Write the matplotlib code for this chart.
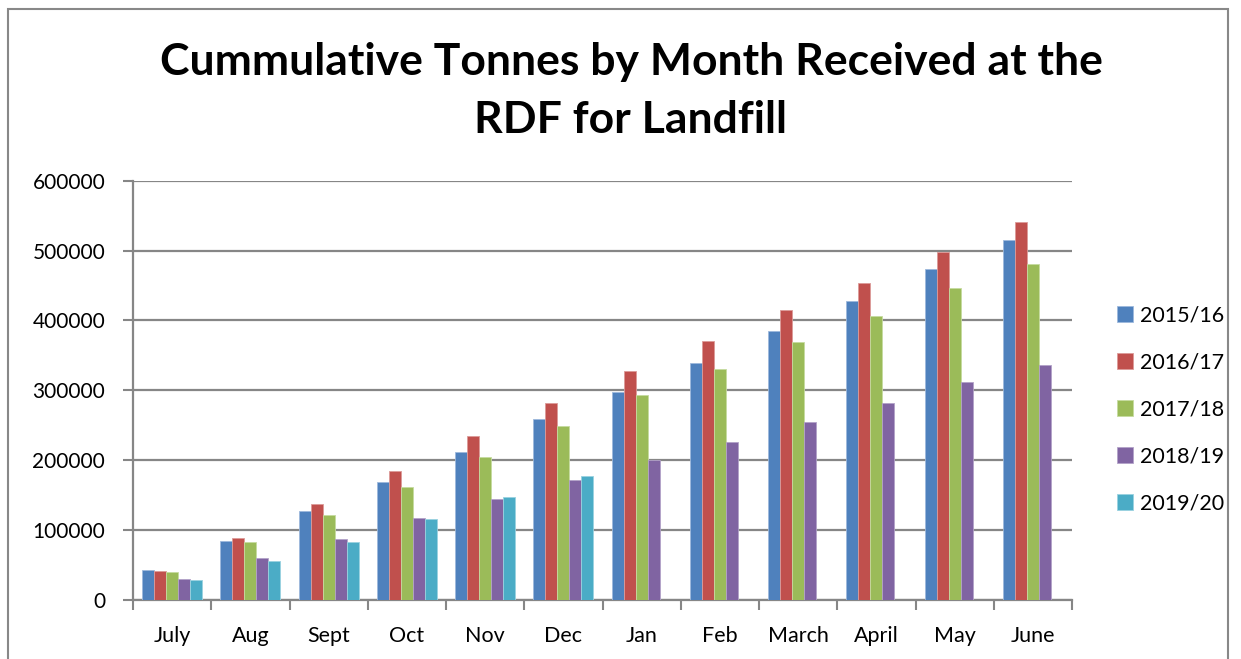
import matplotlib
matplotlib.use("Agg")
import matplotlib.pyplot as plt
from matplotlib.patches import Rectangle
import numpy as np

months = ["July", "Aug", "Sept", "Oct", "Nov", "Dec", "Jan", "Feb", "March", "April", "May", "June"]
series_names = ["2015/16", "2016/17", "2017/18", "2018/19", "2019/20"]
s2015 = [43500, 84500, 127000, 168500, 211500, 258300, 297400, 339000, 384300, 427700, 473100, 515100]
s2016 = [41100, 88300, 138000, 184700, 234000, 281200, 328000, 370000, 415300, 453500, 498300, 541300]
s2017 = [40100, 83100, 121300, 162400, 204300, 248300, 292700, 330400, 368600, 406700, 446800, 480300]
s2018 = [29600, 59700, 86900, 117000, 144200, 172400, 200500, 226800, 254500, 281200, 312200, 336500]
s2019 = [28200, 55400, 83100, 116000, 148000, 177100, np.nan, np.nan, np.nan, np.nan, np.nan, np.nan]
yticks = [0, 100000, 200000, 300000, 400000, 500000, 600000]
colors = ["#4F81BD", "#C0504D", "#9BBB59", "#8064A2", "#4BACC6"]
edges = ["#9db9dc", "#dc9a98", "#c6dba0", "#b3a2c8", "#9ad2e0"]

plt.rcParams['font.family'] = ['Lato', 'DejaVu Sans']

fig = plt.figure(figsize=(12.41, 6.59), dpi=100)
# outer frame
fig.patches.append(Rectangle((8/1241, -0.1), (1228-8)/1241, 1.1 - 9/659, transform=fig.transFigure,
                             fill=False, edgecolor="#888888", linewidth=1.5))

ax = fig.add_axes([133/1241, 1-600/659, (1072-133)/1241, (600-180.7)/659])
data = [s2015, s2016, s2017, s2018, s2019]
x = np.arange(len(months))
w = 1/6.5
for i, (vals, c, e, name) in enumerate(zip(data, colors, edges, series_names)):
    ax.bar(x + (i-2)*w, vals, width=w, color=c, edgecolor=e, linewidth=0.6, label=name, zorder=3)

ax.set_xlim(-0.5, len(months)-0.5)
ax.set_ylim(0, 600000)
ax.set_yticks(yticks)
ax.set_yticklabels([str(v) for v in yticks], fontsize=15)
ax.yaxis.grid(True, color="#868686", linewidth=1.6, zorder=0)
ax.set_xticks(x)
ax.set_xticklabels(months, fontsize=15.5)
ax.set_xticks(np.arange(-0.5, len(months)), minor=True)
ax.tick_params(axis='x', which='major', length=0, pad=19)
ax.tick_params(axis='x', which='minor', length=7, width=1.5, color="#868686")
ax.tick_params(axis='y', length=7, width=1.5, color="#868686", pad=13)
for s in ["top", "right"]:
    ax.spines[s].set_visible(False)
for s in ["left", "bottom"]:
    ax.spines[s].set_color("#868686")
    ax.spines[s].set_linewidth(1.6)

fig.text(631/1241, 1-62/659, "Cummulative Tonnes by Month Received at the", ha="center", va="center",
         fontsize=32, fontweight="bold")
fig.text(631/1241, 1-120/659, "RDF for Landfill", ha="center", va="center",
         fontsize=32, fontweight="bold")

leg = ax.legend(loc="upper left", bbox_to_anchor=(1108/1241, 1-297/659), bbox_transform=fig.transFigure,
                frameon=False, fontsize=15.5, handlelength=0.75, handleheight=0.75, handletextpad=0.35,
                labelspacing=1.25, borderaxespad=0)

fig.savefig("out.png", dpi=100)
